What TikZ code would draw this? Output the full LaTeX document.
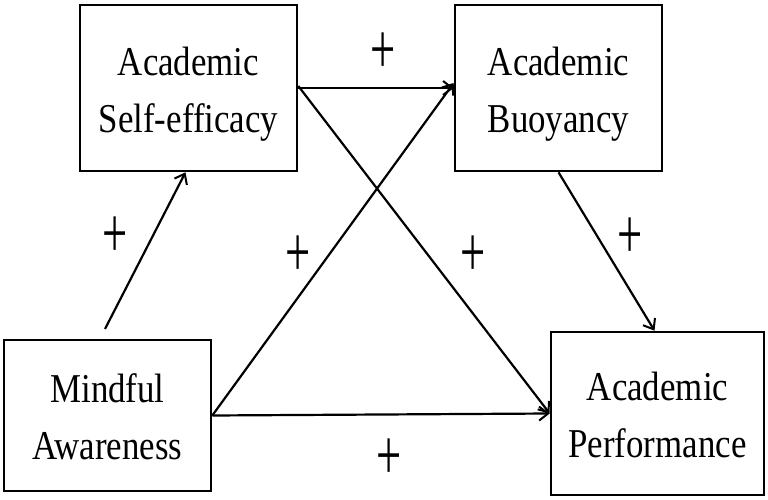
\documentclass[tikz,border=0pt]{standalone}
\usepackage{fontspec}
\setmainfont[FakeStretch=0.85]{Liberation Serif}
\newfontfamily\signfont[FakeStretch=0.62]{Liberation Serif}
\usetikzlibrary{arrows.meta,calc}
\newcommand\twoline[2]{\rule{0pt}{40pt}#1\\#2\rule[-9pt]{0pt}{9pt}}
\begin{document}
\begin{tikzpicture}[x=1pt,y=-1pt,
  box/.style={draw,line width=2.6pt,align=center,inner sep=0pt,
    font=\fontsize{41}{57}\selectfont},
  link/.style={line width=2.2pt,-{Straight Barb[length=9pt,width=14pt,line width=2pt]}},
  sign/.style={font=\signfont\fontsize{72}{72}\selectfont,inner sep=0pt}]
\useasboundingbox (0,0) rectangle (768,500);
\node[box,minimum width=217pt,minimum height=166pt] (se) at (188.5,88) {\twoline{Academic}{Self-efficacy}};
\node[box,minimum width=207pt,minimum height=166pt] (ab) at (558.5,88) {\twoline{Academic}{Buoyancy}};
\node[box,minimum width=207pt,minimum height=151pt] (ma) at (107.5,415.5) {\twoline{Mindful}{Awareness}};
\node[box,minimum width=213pt,minimum height=163pt] (ap) at (657.5,413.5) {\twoline{Academic}{Performance}};
\draw[link,shorten <=11pt] ([xshift=-7.5pt]ma.north) -- ([xshift=-3pt]se.south);
\draw[link] (se.east) -- (ab.west);
\draw[link] ([yshift=2pt]se.east) -- (ap.west);
\draw[link] (ma.east) -- ([yshift=5pt]ab.west);
\draw[link] (ma.east) -- (ap.west);
\draw[link] (ab.south) -- ([xshift=-3pt]ap.north);
\node[sign] (p1) at (382.7,52.7) {+};
\node[sign] (p2) at (115,237.3) {+};
\node[sign] (p3) at (298.3,255.7) {+};
\node[sign] (p4) at (473.3,255.7) {+};
\node[sign] (p5) at (630,237.7) {+};
\node[sign] (p6) at (389.3,459) {+};
\end{tikzpicture}
\end{document}
